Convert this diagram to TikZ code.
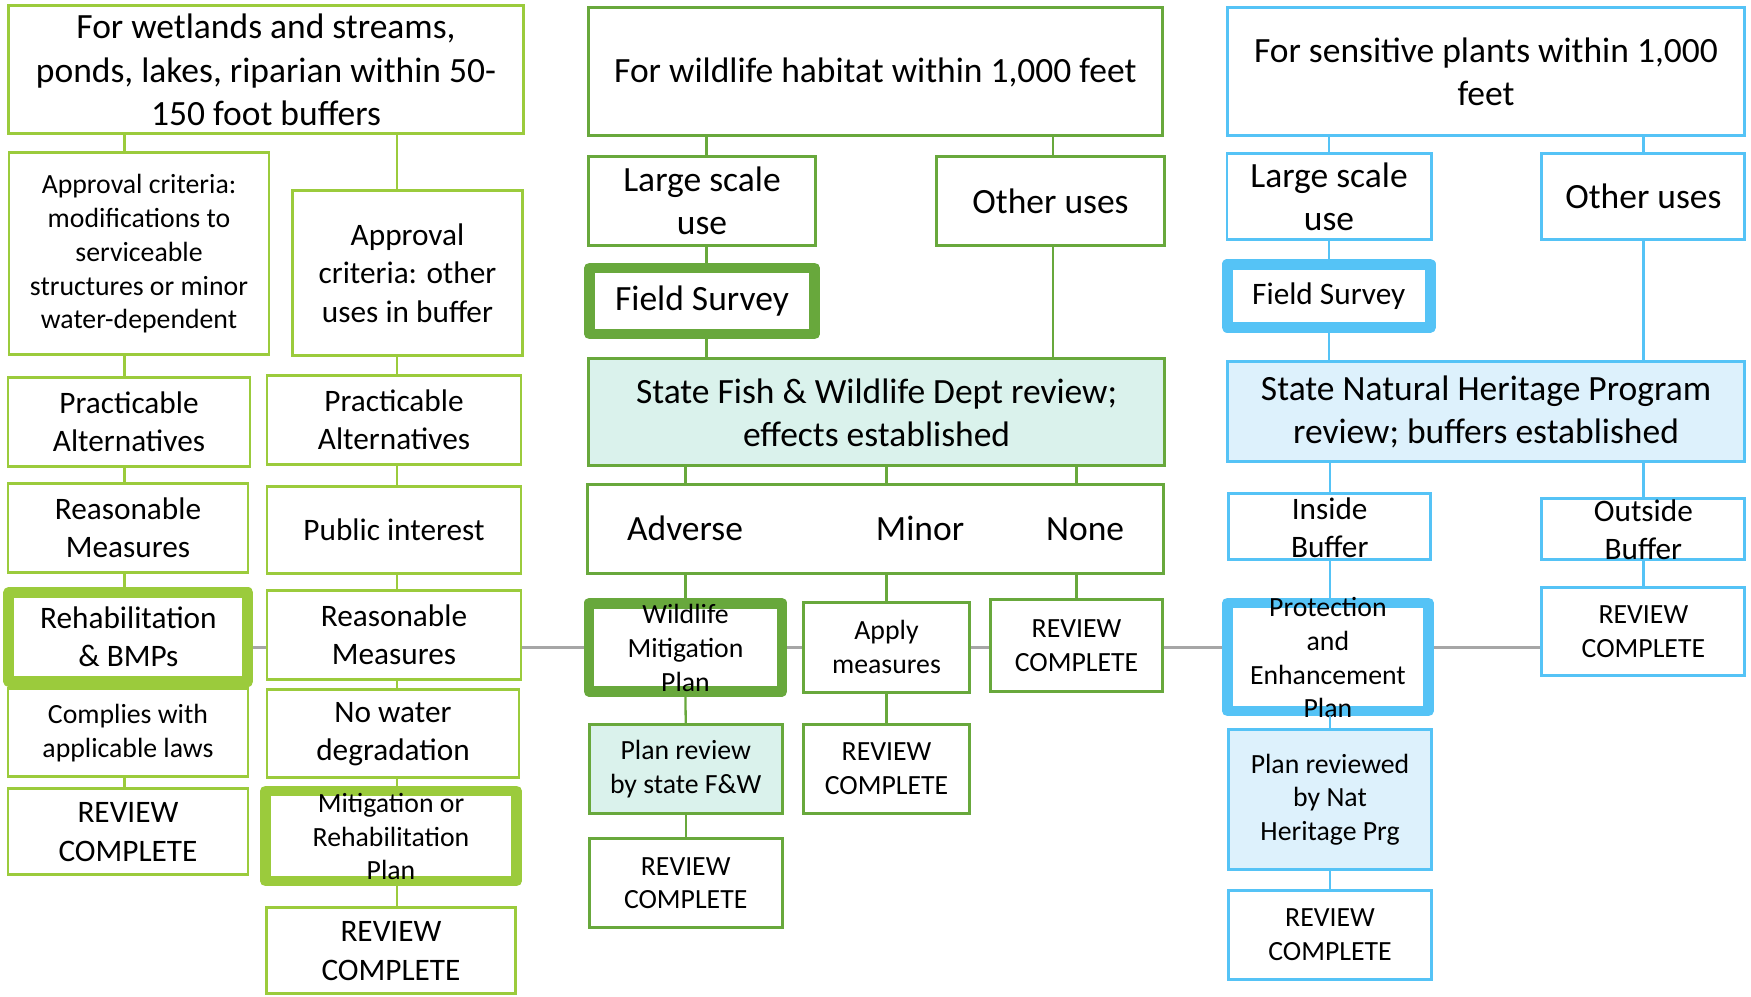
\documentclass[tikz,border=0pt]{standalone}
\usepackage{fontspec}
\setmainfont{Carlito}
\usepackage{xcolor}
\usepackage{tikz}
\usetikzlibrary{positioning,backgrounds}

\definecolor{wetgreen}{HTML}{9BCB3C}
\definecolor{wildgreen}{HTML}{68A83C}
\definecolor{plantblue}{HTML}{55C3F6}
\definecolor{wildfill}{HTML}{DAF2EC}
\definecolor{plantfill}{HTML}{DDF1FC}
\definecolor{midgray}{HTML}{A6A6A6}

% text that may run over the edge of its box
\newcommand{\spill}[1]{\smash{\raisebox{-0.38em}{\begin{tabular}{@{}c@{}}#1\end{tabular}}}}

\begin{document}
\begin{tikzpicture}[box/.style={draw, fill=white, inner sep=0pt, align=center, line width=0.85pt},
	wet/.style={box, draw=wetgreen}, wild/.style={box, draw=wildgreen}, plant/.style={box, draw=plantblue},
	heavy/.style={line width=3.1pt, line join=round},
	big/.style={font=\fontsize{10.1}{12.3}\selectfont},
	mid/.style={font=\fontsize{8.9}{10.9}\selectfont},
	small/.style={font=\fontsize{7.9}{9.6}\selectfont},
	wh/.style 2 args={minimum width=#1cm, minimum height=#2cm},
	wetlink/.style={draw=wetgreen, line width=0.65pt},
	wildlink/.style={draw=wildgreen, line width=0.65pt},
	plantlink/.style={draw=plantblue, line width=0.65pt}]
	\useasboundingbox (0,0) rectangle (17.51,-9.97);

	% wetlands and streams
	\node[wet, big, wh={5.15}{1.28}] (wet) at (2.66,-0.70) {For wetlands and streams,\\ponds, lakes, riparian within 50-\\150 foot buffers};
	\node[wet, small, wh={2.60}{2.02}] (minorApp) at (1.39,-2.54) {Approval criteria:\\modifications to\\serviceable\\structures or minor\\water-dependent};
	\node[wet, mid, wh={2.30}{1.65}] (otherApp) at (4.075,-2.73) {Approval\\criteria: other\\uses in buffer};
	\node[wet, mid, wh={2.42}{0.89}] (minorAlt) at (1.29,-4.22) {Practicable\\Alternatives};
	\node[wet, mid, wh={2.54}{0.89}] (otherAlt) at (3.94,-4.20) {Practicable\\Alternatives};
	\node[wet, mid, wh={2.40}{0.89}] (minorMeas) at (1.28,-5.28) {Reasonable\\Measures};
	\node[wet, mid, wh={2.54}{0.87}] (public) at (3.94,-5.30) {Public interest};
	\node[wet, heavy, mid, wh={2.39}{0.89}] (rehab) at (1.284,-6.37) {Rehabilitation\\\& BMPs};
	\node[wet, mid, wh={2.54}{0.89}] (otherMeas) at (3.94,-6.35) {Reasonable\\Measures};
	\node[wet, small, wh={2.40}{0.88}] (laws) at (1.28,-7.33) {Complies with\\applicable laws};
	\node[wet, mid, wh={2.52}{0.88}] (noDegr) at (3.93,-7.34) {No water\\degradation};
	\node[wet, mid, wh={2.40}{0.86}] (wetDoneA) at (1.28,-8.32) {REVIEW\\COMPLETE};
	\node[wet, heavy, small, wh={2.51}{0.90}] (mitPlan) at (3.91,-8.36) {\spill{Mitigation or\\Rehabilitation\\Plan}};
	\node[wet, mid, wh={2.49}{0.86}] (wetDoneB) at (3.91,-9.51) {REVIEW\\COMPLETE};

	% wildlife habitat
	\node[wild, big, wh={5.74}{1.28}] (wild) at (8.754,-0.72) {For wildlife habitat within 1,000 feet};
	\node[wild, big, wh={2.27}{0.89}] (wildLarge) at (7.02,-2.01) {Large scale\\use};
	\node[wild, big, wh={2.28}{0.89}] (wildOther) at (10.505,-2.01) {Other uses};
	\node[wild, heavy, big, wh={2.25}{0.66}] (wildSurvey) at (7.02,-3.01) {Field Survey};
	\node[wild, big, fill=wildfill, wh={5.76}{1.07}] (fishDept) at (8.766,-4.125) {State Fish \& Wildlife Dept review;\\effects established};
	\node[wild, big, wh={5.76}{0.89}] (effects) at (8.756,-5.287) {Adverse\hspace{1.33cm}Minor\hspace{0.82cm}None};
	\node[wild, heavy, small, wh={1.93}{0.88}] (wildPlan) at (6.855,-6.473) {\spill{Wildlife\\Mitigation\\Plan}};
	\node[wild, small, wh={1.66}{0.90}] (apply) at (8.865,-6.472) {Apply\\measures};
	\node[wild, small, wh={1.72}{0.92}] (wildDoneC) at (10.765,-6.46) {REVIEW\\COMPLETE};
	\node[wild, small, fill=wildfill, wh={1.93}{0.89}] (planRev) at (6.857,-7.69) {Plan review\\by state F\&W};
	\node[wild, small, wh={1.66}{0.89}] (wildDoneB) at (8.865,-7.69) {REVIEW\\COMPLETE};
	\node[wild, small, wh={1.93}{0.89}] (wildDoneA) at (6.857,-8.833) {REVIEW\\COMPLETE};

	% sensitive plants
	\node[plant, big, wh={5.17}{1.28}] (plant) at (14.86,-0.717) {For sensitive plants within 1,000\\feet};
	\node[plant, big, wh={2.04}{0.86}] (plantLarge) at (13.29,-1.967) {Large scale\\use};
	\node[plant, big, wh={2.03}{0.86}] (plantOther) at (16.434,-1.967) {Other uses};
	\node[plant, heavy, mid, wh={2.03}{0.63}] (plantSurvey) at (13.288,-2.958) {Field Survey};
	\node[plant, big, fill=plantfill, wh={5.17}{1.00}] (heritage) at (14.86,-4.117) {State Natural Heritage Program\\review; buffers established};
	\node[plant, mid, wh={2.02}{0.66}] (inside) at (13.297,-5.267) {\spill{Inside\\Buffer}};
	\node[plant, mid, wh={2.03}{0.61}] (outside) at (16.434,-5.292) {\spill{Outside\\Buffer}};
	\node[plant, heavy, small, wh={2.01}{1.08}] (protPlan) at (13.279,-6.57) {\spill{Protection\\and\\Enhancement\\Plan}};
	\node[plant, small, wh={2.03}{0.88}] (plantDoneB) at (16.434,-6.32) {REVIEW\\COMPLETE};
	\node[plant, small, fill=plantfill, wh={2.03}{1.40}] (natRev) at (13.30,-7.995) {Plan reviewed\\by Nat\\Heritage Prg};
	\node[plant, small, wh={2.03}{0.89}] (plantDoneA) at (13.30,-9.35) {REVIEW\\COMPLETE};

	% trunk lines
	\coordinate (wa) at (1.245,0);
	\coordinate (wb) at (3.973,0);
	\coordinate (fa) at (7.064,0);
	\coordinate (fb) at (10.532,0);

	\draw[wetlink] (wet.south -| wa) -- (minorApp.north -| wa);
	\draw[wetlink] (minorApp.south -| wa) -- (minorAlt.north -| wa);
	\draw[wetlink] (minorAlt.south -| wa) -- (minorMeas.north -| wa);
	\draw[wetlink] (minorMeas.south -| wa) -- (rehab.north -| wa);
	\draw[wetlink] (rehab.south -| wa) -- (laws.north -| wa);
	\draw[wetlink] (laws.south -| wa) -- (wetDoneA.north -| wa);
	\draw[wetlink] (wet.south -| wb) -- (otherApp.north -| wb);
	\draw[wetlink] (otherApp.south -| wb) -- (otherAlt.north -| wb);
	\draw[wetlink] (otherAlt.south -| wb) -- (public.north -| wb);
	\draw[wetlink] (public.south -| wb) -- (otherMeas.north -| wb);
	\draw[wetlink] (otherMeas.south -| wb) -- (noDegr.north -| wb);
	\draw[wetlink] (noDegr.south -| wb) -- (mitPlan.north -| wb);
	\draw[wetlink] (mitPlan.south -| wb) -- (wetDoneB.north -| wb);

	\draw[wildlink] (wild.south -| fa) -- (wildLarge.north -| fa);
	\draw[wildlink] (wildLarge.south -| fa) -- (wildSurvey.north -| fa);
	\draw[wildlink] (wildSurvey.south -| fa) -- (fishDept.north -| fa);
	\draw[wildlink] (wild.south -| fb) -- (wildOther.north -| fb);
	\draw[wildlink] (wildOther.south -| fb) -- (fishDept.north -| fb);
	\draw[wildlink] (fishDept.south -| wildPlan) -- (effects.north -| wildPlan);
	\draw[wildlink] (fishDept.south -| apply) -- (effects.north -| apply);
	\draw[wildlink] (fishDept.south -| wildDoneC) -- (effects.north -| wildDoneC);
	\draw[wildlink] (effects.south -| wildPlan) -- (wildPlan.north);
	\draw[wildlink] (effects.south -| apply) -- (apply.north);
	\draw[wildlink] (effects.south -| wildDoneC) -- (wildDoneC.north);
	\draw[wildlink] (wildPlan.south) -- (planRev.north);
	\draw[wildlink] (planRev.south) -- (wildDoneA.north);
	\draw[wildlink] (apply.south) -- (wildDoneB.north);

	\draw[plantlink] (plant.south -| plantLarge) -- (plantLarge.north);
	\draw[plantlink] (plantLarge.south) -- (plantSurvey.north -| plantLarge);
	\draw[plantlink] (plantSurvey.south -| plantLarge) -- (heritage.north -| plantLarge);
	\draw[plantlink] (plant.south -| plantOther) -- (plantOther.north);
	\draw[plantlink] (plantOther.south) -- (heritage.north -| plantOther);
	\draw[plantlink] (heritage.south -| inside) -- (inside.north);
	\draw[plantlink] (heritage.south -| outside) -- (outside.north);
	\draw[plantlink] (inside.south) -- (protPlan.north -| inside);
	\draw[plantlink] (outside.south) -- (plantDoneB.north -| outside);
	\draw[plantlink] (protPlan.south -| natRev) -- (natRev.north);
	\draw[plantlink] (natRev.south) -- (plantDoneA.north);

	% the grey line behind the boxes
	\begin{scope}[on background layer]
		\draw[midgray, line width=0.75pt] (rehab.east |- wildPlan) -- (plantDoneB.west |- wildPlan);
	\end{scope}
\end{tikzpicture}
\end{document}
